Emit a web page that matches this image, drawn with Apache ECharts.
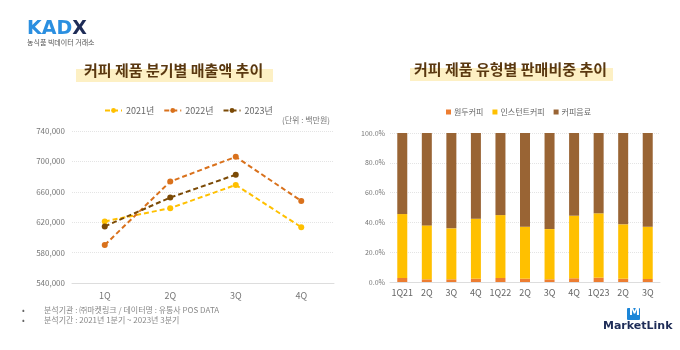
<!DOCTYPE html>
<html><head><meta charset="utf-8">
<script src="https://cdn.jsdelivr.net/npm/echarts@6/dist/echarts.min.js"></script>
<style>html,body{margin:0;padding:0;background:#fff}#c{width:680px;height:350px}</style>
</head><body><div id="c"></div>
<script>
const quarters = ['1Q','2Q','3Q','4Q'];
const sales2021 = [621000, 638500, 669000, 613500];
const sales2022 = [590000, 673500, 706000, 648000];
const sales2023 = [614500, 652500, 682500, null];
const yTicksLeft = [540000, 580000, 620000, 660000, 700000, 740000];

const periods = ['1Q21','2Q','3Q','4Q','1Q22','2Q','3Q','4Q','1Q23','2Q','3Q'];
const beanShare = [2.7, 1.8, 1.8, 2.2, 2.7, 2.2, 1.8, 2.5, 2.9, 2.2, 2.0];
const instantShare = [42.9, 36.2, 34.2, 40.3, 42.2, 34.9, 33.7, 42.0, 43.2, 36.5, 35.1];
const beverageShare = beanShare.map((b,i)=> +(100 - b - instantShare[i]).toFixed(1));

const FONT = '"Noto Sans CJK KR", "Noto Sans", sans-serif';
const chart = echarts.init(document.getElementById('c'), null, {renderer:'canvas'});
const lineColors = ['#FFC000', '#D9711C', '#7B4A06'];
const mkLine = (name, data, color) => ({
  name, type:'line', data, xAxisIndex:0, yAxisIndex:0,
  symbol:'circle', symbolSize:6, connectNulls:false,
  itemStyle:{color}, lineStyle:{color, width:2, type:[5,3]}
});
chart.setOption({
  animation:false,
  textStyle:{fontFamily:FONT},
  graphic:[
    {type:'text', left:27, top:20, style:{text:'{a|KAD}{b|X}', rich:{
      a:{fontSize:19, fontWeight:'bold', fill:'#2B8FE0', fontFamily:'"DejaVu Sans", sans-serif'},
      b:{fontSize:19, fontWeight:'bold', fill:'#1E2C57', fontFamily:'"DejaVu Sans", sans-serif'}}}},
    {type:'text', left:27, top:39, style:{text:'농식품 빅데이터 거래소', fontSize:7, fill:'#555', fontFamily:FONT}},
    {type:'rect', shape:{x:76, y:69, width:197, height:13}, style:{fill:'#FDF0C4'}},
    {type:'text', left:84, top:63, style:{text:'커피 제품 분기별 매출액 추이', fontSize:15, fontWeight:'bold', fill:'#5A3810', fontFamily:FONT}},
    {type:'rect', shape:{x:410, y:68, width:203, height:13}, style:{fill:'#FDF0C4'}},
    {type:'text', left:414, top:62, style:{text:'커피 제품 유형별 판매비중 추이', fontSize:15, fontWeight:'bold', fill:'#5A3810', fontFamily:FONT}},
    {type:'text', right:350, top:116, style:{text:'(단위 : 백만원)', fontSize:8, fill:'#777', fontFamily:FONT}},
    {type:'text', left:22, top:305, style:{text:'•\n•', fontSize:8, lineHeight:10, fill:'#666', fontFamily:FONT}},
    {type:'text', left:44, top:305, style:{text:'분석기관 : ㈜마켓링크 / 데이터명 : 유통사 POS DATA\n분석기간 : 2021년 1분기 ~ 2023년 3분기', fontSize:8, lineHeight:10, fill:'#888', fontFamily:FONT}},
    {type:'rect', shape:{x:627, y:308, width:13, height:12, r:1}, style:{fill:'#1C86D8'}},
    {type:'text', left:629, top:307, style:{text:'M', fontSize:11, fontWeight:'bold', fill:'#fff', fontFamily:'"DejaVu Sans", sans-serif'}},
    {type:'text', left:603, top:321, style:{text:'MarketLink', fontSize:11, fontWeight:'bold', fill:'#1E2C57', fontFamily:'"DejaVu Sans", sans-serif'}}
  ],
  legend:[
    {data:['2021년','2022년','2023년'], left:99, top:101, itemWidth:17, itemHeight:6, itemGap:9,
     textStyle:{fontSize:9, color:'#666', fontFamily:FONT, padding:[0,0,0,-1]}},
    {data:['원두커피','인스턴트커피','커피음료'], left:441, top:103, icon:'rect', itemWidth:5, itemHeight:5, itemGap:9,
     textStyle:{fontSize:8, color:'#666', fontFamily:FONT, padding:[0,0,0,-2]}}
  ],
  grid:[
    {left:72, right:346, top:131, bottom:67},
    {left:390, right:20, top:133, bottom:68}
  ],
  xAxis:[
    {type:'category', gridIndex:0, data:quarters, boundaryGap:true,
     axisLine:{lineStyle:{color:'#ddd'}}, axisTick:{show:false},
     axisLabel:{color:'#777', fontSize:9, margin:8, fontFamily:FONT}},
    {type:'category', gridIndex:1, data:periods,
     axisLine:{lineStyle:{color:'#ddd'}}, axisTick:{show:false},
     axisLabel:{color:'#666', fontSize:9, margin:6, interval:0, fontFamily:FONT}}
  ],
  yAxis:[
    {type:'value', gridIndex:0, min:yTicksLeft[0], max:yTicksLeft[yTicksLeft.length-1], interval:40000,
     axisLine:{show:false}, axisTick:{show:false},
     splitLine:{lineStyle:{color:'#e4e4e4', type:'dotted'}},
     axisLabel:{color:'#777', fontSize:8, margin:7, fontFamily:FONT,
       formatter:v=>v.toLocaleString('en-US')}},
    {type:'value', gridIndex:1, min:0, max:100, interval:20,
     axisLine:{show:false}, axisTick:{show:false},
     splitLine:{lineStyle:{color:'#e4e4e4', type:'dotted'}},
     axisLabel:{color:'#777', fontSize:7, margin:5, fontFamily:FONT, formatter:v=>v.toFixed(1)+'%'}}
  ],
  series:[
    mkLine('2021년', sales2021, lineColors[0]),
    mkLine('2022년', sales2022, lineColors[1]),
    mkLine('2023년', sales2023, lineColors[2]),
    {name:'원두커피', type:'bar', stack:'s', xAxisIndex:1, yAxisIndex:1, data:beanShare, barWidth:10, itemStyle:{color:'#ED7D31'}},
    {name:'인스턴트커피', type:'bar', stack:'s', xAxisIndex:1, yAxisIndex:1, data:instantShare, barWidth:10, itemStyle:{color:'#FFC000'}},
    {name:'커피음료', type:'bar', stack:'s', xAxisIndex:1, yAxisIndex:1, data:beverageShare, barWidth:10, itemStyle:{color:'#996434'}}
  ]
});
</script></body></html>
